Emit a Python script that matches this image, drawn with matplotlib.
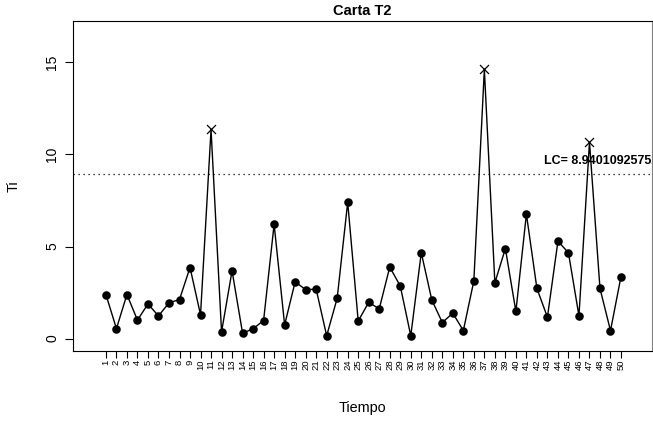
import numpy as np
import matplotlib
matplotlib.use("Agg")
import matplotlib.pyplot as plt

plt.rcParams['font.family'] = ['Liberation Sans', 'DejaVu Sans']

# ---------------- data ----------------
tiempo = list(range(1, 51))
t2 = [2.39, 0.54, 2.39, 1.00, 1.88, 1.23, 1.94, 2.12, 3.86, 1.29,
      11.36, 0.36, 3.68, 0.29, 0.53, 0.98, 6.21, 0.74, 3.08, 2.66,
      2.68, 0.15, 2.19, 7.41, 0.95, 1.97, 1.61, 3.88, 2.86, 0.15,
      4.66, 2.10, 0.87, 1.38, 0.43, 3.13, 14.62, 3.03, 4.89, 1.47,
      6.76, 2.72, 1.16, 5.29, 4.66, 1.23, 10.67, 2.72, 0.43, 3.37]
lc = 8.940109257523
lc_label = "LC= 8.940109257523"

x = np.array(tiempo)
y = np.array(t2)
out = y > lc

fig = plt.figure(figsize=(6.53, 4.24), dpi=100)
ax = fig.add_axes([0.1123, 0.1729, 0.8862, 0.7783])

ax.plot(x, y, color="black", lw=1.0, zorder=2)
ax.scatter(x[~out], y[~out], s=38, color="black", marker="o", zorder=3, linewidths=0)
ax.scatter(x[out], y[out], s=42, color="black", marker="x", zorder=3, linewidths=0.9)
ax.axhline(lc, color="black", ls=(0, (1, 3)), lw=0.9, zorder=1)
# label runs past the right edge in the original, clipped to the plot box
ax.text(42.67, 9.62, lc_label, fontsize=9, fontweight="bold", ha="left", va="center",
        clip_on=True)

ax.set_xlim(-2.1, 52.95)
ax.set_ylim(-0.66, 17.27)
ax.set_yticks([0, 5, 10, 15])
ax.set_yticklabels(["0", "5", "10", "15"], rotation=90, va="center", fontsize=10)
ax.set_xticks(tiempo)
ax.set_xticklabels([str(t) for t in tiempo], rotation=90, fontsize=6.8)
ax.tick_params(axis="x", length=5, width=0.8, pad=1.5)
ax.tick_params(axis="y", length=6, width=0.8, pad=4)
for s in ax.spines.values():
    s.set_linewidth(0.8)
ax.spines["right"].set_color("0.5")

ax.set_title("Carta T2", fontsize=10.5, fontweight="bold", pad=4)
ax.set_xlabel("Tiempo", fontsize=10.4, labelpad=22)
ax.set_ylabel("Ti", fontsize=10.4, labelpad=18)

fig.savefig("out.png", dpi=100)
